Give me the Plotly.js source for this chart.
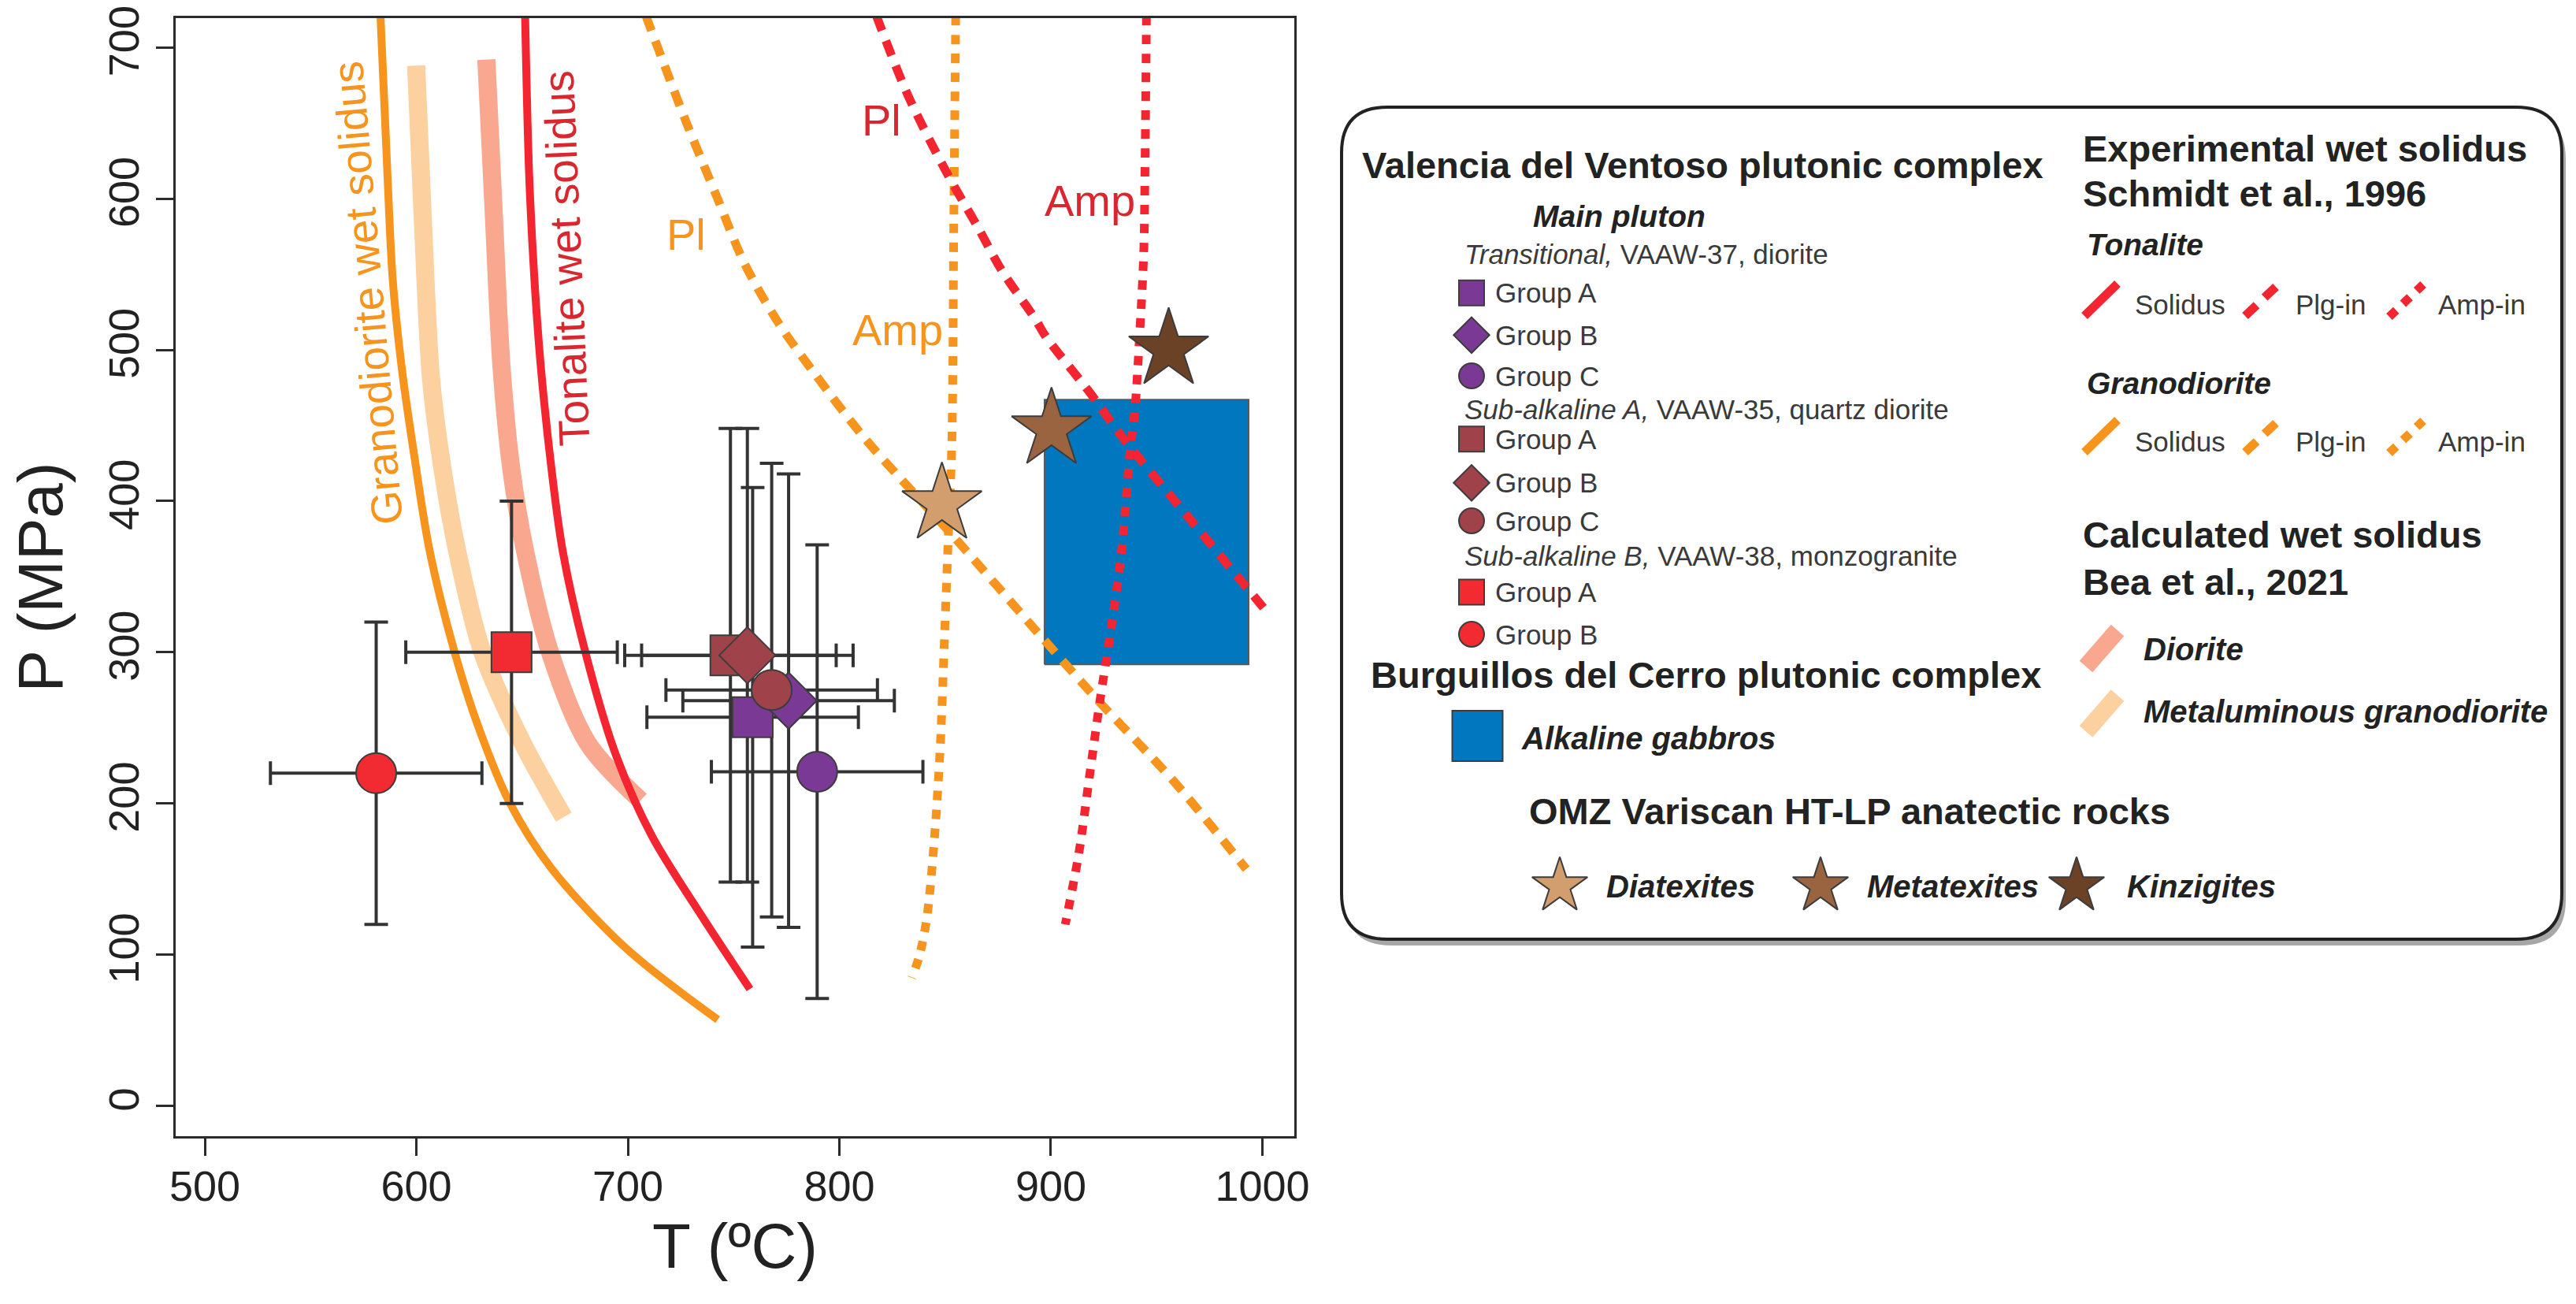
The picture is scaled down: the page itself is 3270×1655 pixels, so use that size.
<!DOCTYPE html>
<html>
<head>
<meta charset="utf-8">
<script src="https://cdn.plot.ly/plotly-3.0.1.min.js"></script>
<style>
html,body{margin:0;padding:0;background:#ffffff;}
#chart{width:3270px;height:1655px;}
</style>
</head>
<body>
<div id="chart"></div>
<script>
// ================= DATA =================
// Experimental wet solidus, Schmidt et al. 1996 -- Granodiorite
const grdSolidusT = [583.0, 586.3, 588.8, 593.1, 599.0, 606.3, 618.1, 629.5, 644.3, 663.9, 699.3, 742.5];
const grdSolidusP = [722, 617, 547, 488, 430, 367, 300, 250, 200, 157, 104, 57];
const grdPlT = [708.5, 727.4, 742.1, 755.4, 771.4, 788.6, 812.0, 854.1, 896.8, 922.5, 958.1, 992.4];
const grdPlP = [721, 651.3, 601.1, 556.4, 517.4, 483.8, 441.5, 376.4, 308.2, 267.8, 214.7, 156.6];
const grdAmpT = [855.0, 854.1, 853.2, 851.3, 849.8, 847.7, 844.8, 841.3, 837.7, 834.2];
const grdAmpP = [721, 582.5, 440, 368.8, 313.2, 237.5, 174.3, 123.8, 98.5, 84.7];
// Experimental wet solidus -- Tonalite
const tonSolidusT = [651.4, 653.3, 655.8, 658.9, 664.0, 669.2, 679.9, 694.5, 711.4, 735.1, 757.7];
const tonSolidusP = [722, 617, 547, 488, 420, 367, 300, 231.5, 178.4, 125.2, 77.3];
const tonPlT = [817.5, 832.5, 851.2, 865.7, 876.7, 892.3, 898.0, 917.9, 934.5, 965.2, 1000.5];
const tonPlP = [721, 668.1, 616.0, 580.6, 552.7, 521.1, 508.0, 472.7, 441.0, 389.0, 329.5];
const tonAmpT = [945.2, 944.5, 943.9, 941.9, 939.8, 937.4, 933.2, 928.2, 923.2, 918.2, 913.2, 906.8];
const tonAmpP = [721, 619.7, 563.9, 508, 461.5, 432, 363.8, 313.2, 267.8, 217.3, 166.8, 120];
// Calculated wet solidus, Bea et al. 2021
const dioriteT = [633.1, 636.6, 640.3, 645.0, 651.4, 663.2, 681.0, 706.0];
const dioriteP = [692, 590, 488, 420, 367, 300, 240, 202];
const metGrdT = [599.9, 603.0, 607.0, 612.5, 619.3, 631.2, 650.2, 669.7];
const metGrdP = [688, 588, 480, 420, 367, 300, 240, 191];

// Valencia del Ventoso plutonic complex (groups A, B, C)
const mainT = [759, 776, 789.5];
const mainP = [257, 268, 221];
const mainTerr = [50, 50, 50];
const mainPerr = [152, 150, 150];
const subAT = [748.5, 756.5, 768];
const subAP = [298, 298, 275];
const subATerr = [50, 50, 50];
const subAPerr = [150, 150, 150];
const subBT = [645, 581];
const subBP = [300, 220];
const subBTerr = [50, 50];
const subBPerr = [100, 100];
const groupLabels3 = ['Group A', 'Group B', 'Group C'];
const groupLabels2 = ['Group A', 'Group B'];

// Burguillos del Cerro - Alkaline gabbros (T and P bounds)
const gabbroT = [897, 993.5];
const gabbroP = [292, 467];

// OMZ Variscan HT-LP anatectic rocks
const anatecticNames = ['Diatexites', 'Metatexites', 'Kinzigites'];
const anatecticT = [848.5, 900.3, 955.7];
const anatecticP = [398, 447.5, 500.3];

// Axis ticks
const tTicks = [500, 600, 700, 800, 900, 1000];
const pTicks = [0, 100, 200, 300, 400, 500, 600, 700];

// ================= STYLES =================
const FONT = 'Liberation Sans, Arial, Helvetica, sans-serif';
const C = {
  orange: '#F7941D', orangeText: '#F7941D',
  red: '#F22531', redText: '#D9262F',
  peach: '#FDD09F', salmon: '#F9A88F',
  purple: '#7B3996', brown: '#A0424A', brightRed: '#F22A32',
  blue: '#0077BE',
  diat: '#D29E6E', meta: '#9B6441', kinz: '#6B4226',
  outline: '#3c3c3c', axis: '#2b2b2b', text: '#222222', legText: '#3a3a3a'
};
const DASH_PL = '20px,14px';
const DOT_AMP = '12px,12px';
const symSize = {square: 51, diamond: 55, circle: 51};
const legSymSize = {square: 32, diamond: 35, circle: 32};

const traces = [];

// gabbro rectangle (polygon built from bounds)
traces.push({
  type: 'scatter', mode: 'lines', xaxis: 'x', yaxis: 'y',
  x: [gabbroT[0], gabbroT[1], gabbroT[1], gabbroT[0], gabbroT[0]],
  y: [gabbroP[0], gabbroP[0], gabbroP[1], gabbroP[1], gabbroP[0]],
  fill: 'toself', fillcolor: C.blue, line: {color: '#5a5a5a', width: 2},
  hoverinfo: 'skip', name: 'Alkaline gabbros'
});

function curve(T, P, color, width, dash, name) {
  traces.push({
    type: 'scatter', mode: 'lines', x: T, y: P, name: name,
    line: {color: color, width: width, dash: dash, shape: 'spline', smoothing: 0.9},
    hoverinfo: 'skip'
  });
}
curve(metGrdT, metGrdP, C.peach, 23, 'solid', 'Metaluminous granodiorite');
curve(dioriteT, dioriteP, C.salmon, 23, 'solid', 'Diorite');
curve(grdSolidusT, grdSolidusP, C.orange, 10, 'solid', 'Granodiorite solidus');
curve(tonSolidusT, tonSolidusP, C.red, 10, 'solid', 'Tonalite solidus');
curve(grdPlT, grdPlP, C.orange, 11, DASH_PL, 'Granodiorite Plg-in');
curve(grdAmpT, grdAmpP, C.orange, 11, DOT_AMP, 'Granodiorite Amp-in');
curve(tonPlT, tonPlP, C.red, 11, DASH_PL, 'Tonalite Plg-in');
curve(tonAmpT, tonAmpP, C.red, 11, DOT_AMP, 'Tonalite Amp-in');

// error bars (under all markers)
function errTrace(T, P, Te, Pe) {
  traces.push({
    type: 'scatter', mode: 'markers', x: T, y: P,
    marker: {size: 2, opacity: 0},
    error_x: {type: 'data', array: Te, visible: true, color: '#333333', thickness: 4, width: 15},
    error_y: {type: 'data', array: Pe, visible: true, color: '#333333', thickness: 4, width: 15},
    hoverinfo: 'skip'
  });
}
errTrace(mainT, mainP, mainTerr, mainPerr);
errTrace(subAT, subAP, subATerr, subAPerr);
errTrace(subBT, subBP, subBTerr, subBPerr);

const syms3 = ['square', 'diamond', 'circle'];
const syms2 = ['square', 'circle'];
function markerTrace(T, P, syms, color, names) {
  traces.push({
    type: 'scatter', mode: 'markers', x: T, y: P, text: names,
    marker: {symbol: syms, size: syms.map(s => symSize[s]), color: color, opacity: 1,
             line: {color: C.outline, width: 2}},
    hoverinfo: 'text+x+y'
  });
}
markerTrace(mainT, mainP, syms3, C.purple, groupLabels3);
markerTrace(subAT, subAP, syms3, C.brown, groupLabels3);
markerTrace(subBT, subBP, syms2, C.brightRed, groupLabels2);

traces.push({
  type: 'scatter', mode: 'markers', x: anatecticT, y: anatecticP, text: anatecticNames,
  marker: {symbol: 'star', size: 76, opacity: 1, color: [C.diat, C.meta, C.kinz], line: {color: C.outline, width: 2}},
  hoverinfo: 'text+x+y'
});

// ================= CUSTOM LEGEND (on a hidden pixel-unit axis pair) =================
const LX = 'x2', LY = 'y2';
function legMarker(x, y, sym, color, size) {
  traces.push({type: 'scatter', mode: 'markers', xaxis: LX, yaxis: LY, x: [x], y: [y],
    marker: {symbol: sym, size: size, color: color, opacity: 1, line: {color: C.outline, width: 2}}, hoverinfo: 'skip'});
}
function legLine(x0, y0, x1, y1, color, width, dash) {
  traces.push({type: 'scatter', mode: 'lines', xaxis: LX, yaxis: LY, x: [x0, x1], y: [y0, y1],
    line: {color: color, width: width, dash: dash}, hoverinfo: 'skip'});
}
const legRowsMain = [371.7, 425.3, 477];
const legRowsSubA = [557.3, 612.8, 661];
const legRowsSubB = [751.4, 805];
const legMX = 1868;
syms3.forEach((s, i) => legMarker(legMX, legRowsMain[i], s, C.purple, legSymSize[s]));
syms3.forEach((s, i) => legMarker(legMX, legRowsSubA[i], s, C.brown, legSymSize[s]));
syms2.forEach((s, i) => legMarker(legMX, legRowsSubB[i], s, C.brightRed, legSymSize[s]));
legMarker(1875.5, 934, 'square', C.blue, 64);
legMarker(1980, 1124.6, 'star', C.diat, 53);
legMarker(2311, 1124.6, 'star', C.meta, 53);
legMarker(2636, 1124.6, 'star', C.kinz, 53);
// line keys
[[381, C.red], [554, C.orange]].forEach(([cy, col]) => {
  legLine(2646, cy + 20, 2688, cy - 21, col, 11, 'solid');
  legLine(2850, cy + 20, 2889, cy - 17, col, 11, DASH_PL);
  legLine(3033, cy + 21, 3076, cy - 20, col, 11, DOT_AMP);
});
legLine(2648, 846, 2688, 800, C.salmon, 22, 'solid');
legLine(2648, 928.5, 2688, 882.5, C.peach, 22, 'solid');

const ann = [];
function lt(x, y, text, size, opts) {
  ann.push(Object.assign({xref: LX, yref: LY, x: x, y: y, text: text, showarrow: false,
    xanchor: 'left', yanchor: 'middle', font: {family: FONT, size: size, color: C.legText}}, opts || {}));
}
const HEAD = 47, SUB = 39, ITEM = 35;
const headFont = s => ({font: {family: FONT, size: s, color: C.text}});
lt(1727, 209, '<b>Valencia del Ventoso plutonic complex</b>', HEAD, headFont(HEAD));
lt(1944, 274, '<b><i>Main pluton</i></b>', SUB, headFont(SUB));
lt(1857, 322, '<i>Transitional,</i> VAAW-37, diorite', ITEM);
legRowsMain.forEach((y, i) => lt(1896, y, groupLabels3[i], ITEM));
lt(1857, 519, '<i>Sub-alkaline A,</i> VAAW-35, quartz diorite', ITEM);
legRowsSubA.forEach((y, i) => lt(1896, y, groupLabels3[i], ITEM));
lt(1857, 705.5, '<i>Sub-alkaline B,</i> VAAW-38, monzogranite', ITEM);
legRowsSubB.forEach((y, i) => lt(1896, y, groupLabels2[i], ITEM));
lt(1738, 856.7, '<b>Burguillos del Cerro plutonic complex</b>', HEAD, headFont(HEAD));
lt(1929, 937, '<b><i>Alkaline gabbros</i></b>', 40, headFont(40));
lt(1939, 1029, '<b>OMZ Variscan HT-LP anatectic rocks</b>', HEAD, headFont(HEAD));
lt(2037, 1124.6, '<b><i>' + anatecticNames[0] + '</i></b>', 40, headFont(40));
lt(2368, 1124.6, '<b><i>' + anatecticNames[1] + '</i></b>', 40, headFont(40));
lt(2698, 1124.6, '<b><i>' + anatecticNames[2] + '</i></b>', 40, headFont(40));
lt(2642, 188, '<b>Experimental wet solidus</b>', HEAD, headFont(HEAD));
lt(2642, 245.4, '<b>Schmidt et al., 1996</b>', HEAD, headFont(HEAD));
lt(2647, 310.5, '<b><i>Tonalite</i></b>', SUB, headFont(SUB));
lt(2647, 486.7, '<b><i>Granodiorite</i></b>', SUB, headFont(SUB));
[386.7, 560].forEach(y => {
  lt(2708, y, 'Solidus', ITEM);
  lt(2912, y, 'Plg-in', ITEM);
  lt(3093, y, 'Amp-in', ITEM);
});
lt(2642, 678, '<b>Calculated wet solidus</b>', HEAD, headFont(HEAD));
lt(2642, 738, '<b>Bea et al., 2021</b>', HEAD, headFont(HEAD));
lt(2719, 824, '<b><i>Diorite</i></b>', 40, headFont(40));
lt(2719, 902.6, '<b><i>Metaluminous granodiorite</i></b>', 40, headFont(40));

// in-plot curve labels
function pt(x, y, text, color, size, angle) {
  ann.push({xref: 'x', yref: 'y', x: x, y: y, text: text, showarrow: false, textangle: angle,
    xanchor: 'center', yanchor: 'middle', font: {family: FONT, size: size, color: color}});
}
pt(577, 537.5, 'Granodiorite wet solidus', C.orangeText, 55, -95);
pt(671, 560.4, 'Tonalite wet solidus', C.redText, 55, -92.5);
pt(727.4, 576.4, 'Pl', C.orangeText, 56, 0);
pt(827.7, 513.3, 'Amp', C.orangeText, 56, 0);
pt(820.1, 651.8, 'Pl', C.redText, 56, 0);
pt(918.5, 599, 'Amp', C.redText, 56, 0);

// legend box (rounded) and its shadow
function roundRect(L, T, R, B, r) {
  return `M ${L + r},${T} L ${R - r},${T} Q ${R},${T} ${R},${T + r} L ${R},${B - r} Q ${R},${B} ${R - r},${B} ` +
         `L ${L + r},${B} Q ${L},${B} ${L},${B - r} L ${L},${T + r} Q ${L},${T} ${L + r},${T} Z`;
}
const box = {L: 1703, T: 136, R: 3252, B: 1192, r: 58};
const shapes = [
  {type: 'path', xref: LX, yref: LY, layer: 'below', path: roundRect(box.L + 5, box.T + 8, box.R + 5, box.B + 8, box.r),
   fillcolor: 'rgba(60,60,60,0.45)', line: {width: 0}},
  {type: 'path', xref: LX, yref: LY, layer: 'below', path: roundRect(box.L, box.T, box.R, box.B, box.r),
   fillcolor: '#ffffff', line: {color: '#222222', width: 4}}
];

const axisCommon = {
  showgrid: false, zeroline: false, showline: true, mirror: true,
  linecolor: C.axis, linewidth: 3, ticks: 'outside', ticklen: 22, tickwidth: 3, tickcolor: C.axis,
  tickfont: {family: FONT, size: 54, color: C.text}, fixedrange: true
};
const layout = {
  width: 3270, height: 1655,
  margin: {l: 0, r: 0, t: 0, b: 0, pad: 0},
  paper_bgcolor: '#ffffff', plot_bgcolor: 'rgba(0,0,0,0)',
  showlegend: false,
  font: {family: FONT, color: C.text},
  xaxis: Object.assign({}, axisCommon, {
    domain: [223 / 3270, 1643 / 3270], range: [486.2, 1015.1],
    tickmode: 'array', tickvals: tTicks, ticktext: tTicks.map(String), ticklabelstandoff: -8,
    title: {text: 'T (ºC)', font: {family: FONT, size: 80, color: C.text}, standoff: 20},
    anchor: 'y'
  }),
  yaxis: Object.assign({}, axisCommon, {
    domain: [(1655 - 1442) / 1655, (1655 - 23) / 1655], range: [-20.06, 719.4],
    tickmode: 'array', tickvals: pTicks, ticktext: pTicks.map(String), tickangle: -90,
    title: {text: 'P (MPa)', font: {family: FONT, size: 80, color: C.text}, standoff: 22},
    anchor: 'x'
  }),
  xaxis2: {domain: [1690 / 3270, 1], range: [1690, 3270], visible: false, anchor: 'y2', fixedrange: true},
  yaxis2: {domain: [0, 1], range: [1655, 0], visible: false, anchor: 'x2', fixedrange: true},
  annotations: ann,
  shapes: shapes
};

Plotly.newPlot('chart', traces, layout, {displayModeBar: false, responsive: false});
</script>
</body>
</html>
